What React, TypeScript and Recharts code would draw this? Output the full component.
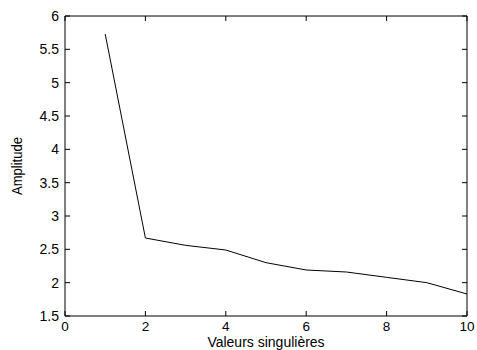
import React from 'react';
import { LineChart, Line, XAxis, YAxis, Label } from 'recharts';

// singular value index and amplitude
const indices = [1, 2, 3, 4, 5, 6, 7, 8, 9, 10];
const amplitudes = [5.73, 2.67, 2.56, 2.49, 2.3, 2.19, 2.16, 2.08, 2.0, 1.83];

const xTicks = [0, 2, 4, 6, 8, 10];
const yTicks = [1.5, 2, 2.5, 3, 3.5, 4, 4.5, 5, 5.5, 6];

const FONT = '"Liberation Sans", Arial, Helvetica, sans-serif';
const TICK_LEN = 5;

const data = indices.map((x, i) => ({ x, y: amplitudes[i] }));

const BottomTick = (props: any) => {
    const { x, y, payload } = props;
    return (
        <g>
            <line x1={x} x2={x} y1={y} y2={y - TICK_LEN} stroke="#000" />
            <text x={x} y={y + 15} textAnchor="middle" fontSize={13.5} fontFamily={FONT} fill="#000">
                {payload.value}
            </text>
        </g>
    );
};

const LeftTick = (props: any) => {
    const { x, y, payload } = props;
    return (
        <g>
            <line x1={x} x2={x + TICK_LEN} y1={y} y2={y} stroke="#000" />
            <text x={x - 6} y={y + 5} textAnchor="end" fontSize={14} fontFamily={FONT} fill="#000">
                {String(payload.value)}
            </text>
        </g>
    );
};

const TopTick = (props: any) => {
    const { x, y } = props;
    return <line x1={x} x2={x} y1={y} y2={y + TICK_LEN} stroke="#000" />;
};

const RightTick = (props: any) => {
    const { x, y } = props;
    return <line x1={x} x2={x - TICK_LEN} y1={y} y2={y} stroke="#000" />;
};

const YLabel = (props: any) => {
    const vb = props.viewBox || { x: 0, y: 16, height: 300 };
    const cx = vb.x + 22;
    const cy = vb.y + vb.height / 2;
    return (
        <text
            x={cx}
            y={cy}
            transform={`rotate(-90, ${cx}, ${cy})`}
            textAnchor="middle"
            fontSize={14}
            fontFamily={FONT}
            fill="#000"
            textLength={58}
            lengthAdjust="spacingAndGlyphs"
        >
            Amplitude
        </text>
    );
};

export default function App() {
    return (
        <div style={{ position: 'absolute', left: 0, top: 0, width: 477, height: 350, background: '#fff' }}>
            <LineChart width={477} height={350} data={data} margin={{ top: 15, right: 9, bottom: 0, left: 0 }}>
                <XAxis
                    dataKey="x"
                    type="number"
                    domain={[0, 10]}
                    ticks={xTicks}
                    interval={0}
                    height={34}
                    tickSize={0}
                    tickMargin={0}
                    axisLine={{ stroke: '#000' }}
                    tickLine={false}
                    tick={<BottomTick />}
                    allowDataOverflow
                >
                    <Label
                        value="Valeurs singulières"
                        position="insideBottom"
                        offset={3}
                        fontSize={14}
                        fontFamily={FONT}
                        fill="#000"
                    />
                </XAxis>
                <XAxis
                    xAxisId="top"
                    orientation="top"
                    dataKey="x"
                    type="number"
                    domain={[0, 10]}
                    ticks={xTicks}
                    interval={0}
                    height={1}
                    tickSize={0}
                    tickMargin={0}
                    axisLine={{ stroke: '#000' }}
                    tickLine={false}
                    tick={<TopTick />}
                    allowDataOverflow
                />
                <YAxis
                    type="number"
                    domain={[1.5, 6]}
                    ticks={yTicks}
                    interval={0}
                    width={65}
                    tickSize={0}
                    tickMargin={0}
                    axisLine={{ stroke: '#000' }}
                    tickLine={false}
                    tick={<LeftTick />}
                    allowDataOverflow
                >
                    <Label content={<YLabel />} />
                </YAxis>
                <YAxis
                    yAxisId="right"
                    orientation="right"
                    type="number"
                    domain={[1.5, 6]}
                    ticks={yTicks}
                    interval={0}
                    width={1}
                    tickSize={0}
                    tickMargin={0}
                    axisLine={{ stroke: '#000' }}
                    tickLine={false}
                    tick={<RightTick />}
                    allowDataOverflow
                />
                <Line
                    type="linear"
                    dataKey="y"
                    stroke="#000"
                    strokeWidth={1}
                    dot={false}
                    activeDot={false}
                    isAnimationActive={false}
                />
            </LineChart>
        </div>
    );
}
